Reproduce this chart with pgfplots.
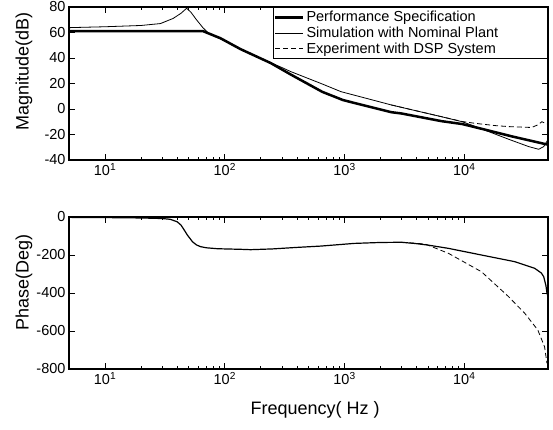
\documentclass[border=0pt]{standalone}
\usepackage{pgfplots}
\pgfplotsset{compat=1.18}
\usepackage{fontspec}
\setmainfont{Liberation Sans}
\newcommand{\tickfont}{\fontsize{14.5}{17}\selectfont}
\newcommand{\labfont}{\fontsize{18}{21}\selectfont}
\begin{document}
\begin{tikzpicture}[x=1pt,y=1pt]
\useasboundingbox (0,0) rectangle (553,430);
\begin{semilogxaxis}[at={(69pt,270pt)}, anchor=south west,
  scale only axis, width=479pt, height=153pt,
  xmin=5, xmax=50000,
  xtick={10,100,1000,10000},
  xticklabels={10\textsuperscript{1},10\textsuperscript{2},10\textsuperscript{3},10\textsuperscript{4}},
  tick align=inside, major tick length=6pt, minor tick length=3pt,
  every tick/.style={black, line width=0.8pt},
  axis line style={line width=1.2pt},
  ticklabel style={font=\tickfont},
  xtick pos=both, ytick pos=both,
  ymin=-40, ymax=80, ytick={-40,-20,0,20,40,60,80},
  yticklabels={-40,-20,0,20,40,60,80},
  ylabel={Magnitude(dB)},
  every axis y label/.style={at={(axis description cs:-0.094,0.58)}, rotate=90, anchor=center, font=\labfont},
  legend style={at={(rel axis cs:1,1)}, anchor=north east, draw=black, line width=1pt,
    font=\tickfont, inner xsep=1pt, inner ysep=2pt, row sep=-0.5pt},
  legend cell align=left,
  legend image code/.code={\draw[#1] (0pt,0pt) -- (28pt,0pt);},
]
\addplot[black, line width=2.5pt] coordinates {
 (5,61) (66,61) (92,55.5) (135,47) (242,36) (356,27) (650,13.5) (970,7)
 (1500,2.5) (2450,-2.5) (2980,-3.5) (6420,-9.5) (9600,-11.8) (13900,-15.5)
 (25000,-21.5) (50000,-28)
};
\addlegendentry{\makebox[238pt][l]{Performance Specification}}
\addplot[black, line width=0.8pt] coordinates {
 (5,63.8) (10,64.5) (20,65.5) (29,67) (37,71) (43,75) (48,79) (52,76) (58,70)
 (66,63.5) (75,58.5) (92,55) (135,47) (242,36.3) (300,32.5) (356,29.3)
 (636,20) (933,13.6) (1500,8.5) (2450,3.2) (4000,-1.5) (6420,-6) (9600,-10)
 (12200,-13.5) (23400,-23.7) (34500,-29.5) (41800,-31.6) (46000,-29.5) (50000,-24)
};
\addlegendentry{Simulation with Nominal Plant}
\addplot[black, line width=0.8pt, dash pattern=on 5pt off 3pt] coordinates {
 (2450,3.2) (4000,-1.5) (6420,-6) (9600,-9.8) (12200,-11.2) (18000,-13)
 (23400,-13.8) (30000,-14.2) (36500,-14.5) (41000,-12.5) (44400,-10)
 (47000,-11) (50000,-12)
};
\addlegendentry{Experiment with DSP System}
\end{semilogxaxis}
\begin{semilogxaxis}[at={(69pt,61pt)}, anchor=south west,
  scale only axis, width=479pt, height=152pt,
  xmin=5, xmax=50000,
  xtick={10,100,1000,10000},
  xticklabels={10\textsuperscript{1},10\textsuperscript{2},10\textsuperscript{3},10\textsuperscript{4}},
  tick align=inside, major tick length=6pt, minor tick length=3pt,
  every tick/.style={black, line width=0.8pt},
  axis line style={line width=1.2pt},
  ticklabel style={font=\tickfont},
  xtick pos=both, ytick pos=both,
  ymin=-800, ymax=0, ytick={-800,-600,-400,-200,0},
  yticklabels={-800,-600,-400,-200,0},
  ylabel={Phase(Deg)}, xlabel={Frequency( Hz )},
  every axis y label/.style={at={(axis description cs:-0.094,0.57)}, rotate=90, anchor=center, font=\labfont},
  every axis x label/.style={at={(axis description cs:0.514,-0.27)}, anchor=center, font=\labfont},
]
\addplot[black, line width=1.2pt] coordinates {
 (5,-2) (10,-3) (20,-5) (30,-8) (35,-12) (40,-25) (43,-42) (46,-70) (48.7,-95)
 (53.7,-130) (58,-147) (62.7,-156) (70,-162) (87,-167) (135,-170) (164,-172)
 (250,-168) (400,-160) (635,-153) (1200,-139) (2000,-134) (2980,-133)
 (3830,-139) (5000,-148) (7360,-165) (13900,-200) (26300,-235) (38700,-270)
 (44000,-295) (46000,-314) (48000,-360) (49000,-400) (50000,-420)
};
\addplot[black, line width=0.8pt, dash pattern=on 5pt off 3pt] coordinates {
 (3000,-133) (4700,-142) (7360,-191) (13900,-288) (23400,-419) (32000,-507)
 (41100,-595) (46800,-683) (49000,-770)
};
\end{semilogxaxis}
\end{tikzpicture}
\end{document}
